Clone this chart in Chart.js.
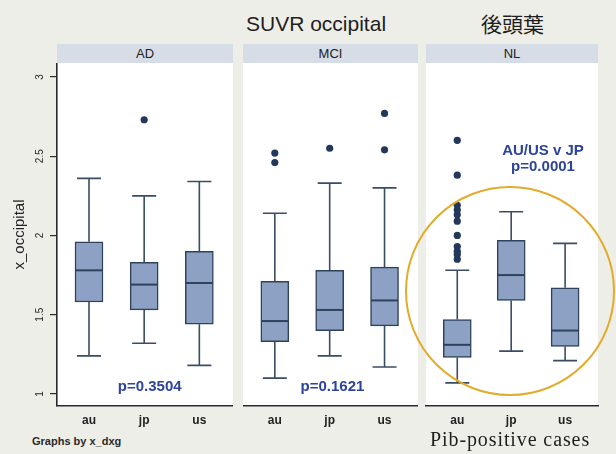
<!DOCTYPE html>
<html><head><meta charset="utf-8">
<script src="https://cdn.jsdelivr.net/npm/chart.js@4"></script>
<style>
html,body{margin:0;padding:0;}
body{width:616px;height:454px;background:#eeeee9;position:relative;overflow:hidden;font-family:"Liberation Sans",Arial,sans-serif;}
.abs{position:absolute;white-space:nowrap;line-height:1;}
canvas{position:absolute;}
.strip{position:absolute;top:44px;height:19px;background:#d6dde6;color:#222;font-size:13px;line-height:19px;text-align:center;}
</style></head><body>
<div class="abs" style="left:246px;top:13px;font-size:21px;color:#1e1e1e;">SUVR occipital</div>
<div class="abs" style="left:481px;top:13px;font-size:21px;color:#1e1e1e;font-family:'Noto Sans CJK JP';">後頭葉</div>
<div class="strip" id="s0" style="left:57px;width:176px;"></div>
<div class="strip" id="s1" style="left:243px;width:175px;"></div>
<div class="strip" id="s2" style="left:426px;width:172px;"></div>
<div style="position:absolute;left:0;top:63px;width:233px;height:367px;"><canvas id="c0"></canvas></div>
<div style="position:absolute;left:243px;top:63px;width:175px;height:367px;"><canvas id="c1"></canvas></div>
<div style="position:absolute;left:400px;top:63px;width:216px;height:367px;"><canvas id="c2"></canvas></div>
<div class="abs" style="left:32px;top:436px;font-size:11px;font-weight:bold;color:#2a2a2a;">Graphs by x_dxg</div>
<div class="abs" style="left:430px;top:429px;font-size:20px;letter-spacing:0.9px;color:#1e1e1e;font-family:'Liberation Serif','Times New Roman',serif;">Pib-positive cases</div>
<script>
// ---- data ----
const panels = ['AD', 'MCI', 'NL'];
const categories = ['au', 'jp', 'us'];
const yTicks = [1, 1.5, 2, 2.5, 3];
const yTitle = 'x_occipital';
// each box: [lower whisker, Q1, median, Q3, upper whisker]
const adBoxes  = [[1.24, 1.58, 1.78, 1.96, 2.36], [1.32, 1.53, 1.69, 1.83, 2.25], [1.18, 1.44, 1.70, 1.90, 2.34]];
const mciBoxes = [[1.10, 1.33, 1.46, 1.71, 2.14], [1.24, 1.40, 1.53, 1.78, 2.33], [1.17, 1.43, 1.59, 1.80, 2.30]];
const nlBoxes  = [[1.07, 1.23, 1.31, 1.47, 1.78], [1.27, 1.59, 1.75, 1.97, 2.15], [1.21, 1.30, 1.40, 1.67, 1.95]];
const adOutliers  = [[], [2.73], []];
const mciOutliers = [[2.52, 2.46], [2.55], [2.77, 2.54]];
const nlOutliers  = [[2.60, 2.38, 2.19, 2.16, 2.13, 2.09, 2.00, 1.93, 1.90, 1.88, 1.85], [], []];
const adNotes  = ['p=0.3504'];
const mciNotes = ['p=0.1621'];
const nlNotes  = ['AU/US v JP', 'p=0.0001'];

// ---- styles ----
const FONT = "'Liberation Sans', Arial, sans-serif";
const BOX_FILL = '#8da1c4';
const BOX_EDGE = '#2e425d';
const WHISK = '#3a4d63';
const DOT = '#22375a';
const NOTE = '#2c449a';
const AXIS = '#2a2a2a';
const Y_MIN = 0.924, Y_MAX = 3.088;

panels.forEach((p, i) => { document.getElementById('s' + i).textContent = p; });

function decor(boxes, notes, notePos, ellipse) {
  return {
    id: 'decor',
    beforeDraw(chart) {
      const a = chart.chartArea, c = chart.ctx;
      c.save(); c.fillStyle = '#ffffff';
      c.fillRect(a.left, a.top, a.right - a.left, a.bottom - a.top);
      c.restore();
    },
    beforeDatasetsDraw(chart) {
      const xs = chart.scales.x, ys = chart.scales.y, c = chart.ctx;
      c.save(); c.strokeStyle = WHISK; c.lineWidth = 1.6;
      boxes.forEach((b, i) => {
        const x = xs.getPixelForValue(i + 1);
        const lo = ys.getPixelForValue(b[0]), q1 = ys.getPixelForValue(b[1]);
        const q3 = ys.getPixelForValue(b[3]), hi = ys.getPixelForValue(b[4]);
        c.beginPath();
        c.moveTo(x, q3); c.lineTo(x, hi);
        c.moveTo(x, q1); c.lineTo(x, lo);
        c.moveTo(x - 12, hi); c.lineTo(x + 12, hi);
        c.moveTo(x - 12, lo); c.lineTo(x + 12, lo);
        c.stroke();
      });
      c.restore();
    },
    afterDatasetsDraw(chart) {
      const xs = chart.scales.x, ys = chart.scales.y, c = chart.ctx;
      c.save(); c.strokeStyle = BOX_EDGE; c.lineWidth = 2;
      boxes.forEach((b, i) => {
        const x = xs.getPixelForValue(i + 1), m = ys.getPixelForValue(b[2]);
        c.beginPath(); c.moveTo(x - 13.5, m); c.lineTo(x + 13.5, m); c.stroke();
      });
      c.fillStyle = NOTE; c.font = 'bold 15px ' + FONT;
      c.textAlign = 'center'; c.textBaseline = 'middle';
      notes.forEach((t, k) => {
        c.fillText(t, xs.getPixelForValue(notePos[k][0]), ys.getPixelForValue(notePos[k][1]));
      });
      c.restore();
    },
    afterDraw(chart) {
      if (!ellipse) return;
      const a = chart.chartArea, c = chart.ctx;
      c.save(); c.strokeStyle = '#e2ab2b'; c.lineWidth = 2;
      c.beginPath();
      c.ellipse(a.left + ellipse[0], a.top + ellipse[1], ellipse[2], ellipse[3], 0, 0, Math.PI * 2);
      c.stroke(); c.restore();
    }
  };
}

function makePanel(id, boxes, outliers, notes, notePos, showY, padLeft, padRight, ellipse) {
  return new Chart(document.getElementById(id), {
    type: 'bar',
    data: {
      datasets: [
        {
          type: 'bar',
          data: boxes.map((b, i) => ({ x: i + 1, y: [b[1], b[3]] })),
          backgroundColor: BOX_FILL, borderColor: BOX_EDGE, borderWidth: 1.5,
          borderSkipped: false, barThickness: 28, order: 2
        },
        {
          type: 'scatter',
          data: outliers.flatMap((arr, i) => arr.map(v => ({ x: i + 1, y: v }))),
          pointRadius: 3.6, pointBackgroundColor: DOT, pointBorderWidth: 0, order: 1
        }
      ]
    },
    options: {
      responsive: true, maintainAspectRatio: false, animation: false,
      layout: { autoPadding: false, padding: { left: padLeft, right: padRight, top: 0, bottom: 0 } },
      plugins: { legend: { display: false }, tooltip: { enabled: false } },
      scales: {
        x: {
          type: 'linear', min: 0.42, max: 3.61, offset: false,
          afterBuildTicks: s => { s.ticks = categories.map((c, i) => ({ value: i + 1 })); },
          ticks: { callback: (v, i) => categories[i], font: { family: FONT, size: 12, weight: 'bold' }, color: '#222', padding: 7, autoSkip: false, maxRotation: 0 },
          grid: { display: false, drawTicks: false },
          border: { display: true, color: AXIS, width: 1.6 },
          afterFit: s => { s.height = 24; s.paddingLeft = 0; s.paddingRight = 0; }
        },
        y: showY ? {
          min: Y_MIN, max: Y_MAX,
          afterBuildTicks: s => { s.ticks = yTicks.map(v => ({ value: v })); },
          ticks: { minRotation: 90, maxRotation: 90, crossAlign: 'center', padding: 3, font: { family: FONT, size: 10 }, color: '#2a2a2a', callback: v => String(v) },
          grid: { display: true, drawOnChartArea: false, drawTicks: true, tickLength: 7, color: AXIS, lineWidth: 1.2 },
          border: { display: true, color: AXIS, width: 1.6 },
          title: { display: true, text: yTitle, font: { family: FONT, size: 15 }, color: '#222', padding: { top: 11, bottom: 0 } },
          afterFit: s => { s.width = 57; s.paddingTop = 0; s.paddingBottom = 0; }
        } : { min: Y_MIN, max: Y_MAX, display: false }
      }
    },
    plugins: [decor(boxes, notes, notePos, ellipse)]
  });
}

makePanel('c0', adBoxes, adOutliers, adNotes, [[2.1, 1.044]], true, 0, 0, null);
makePanel('c1', mciBoxes, mciOutliers, mciNotes, [[2.05, 1.044]], false, 0, 0, null);
makePanel('c2', nlBoxes, nlOutliers, nlNotes, [[2.59, 2.533], [2.59, 2.432]], false, 26, 18, [84, 228, 104, 104]);
</script>
</body></html>
